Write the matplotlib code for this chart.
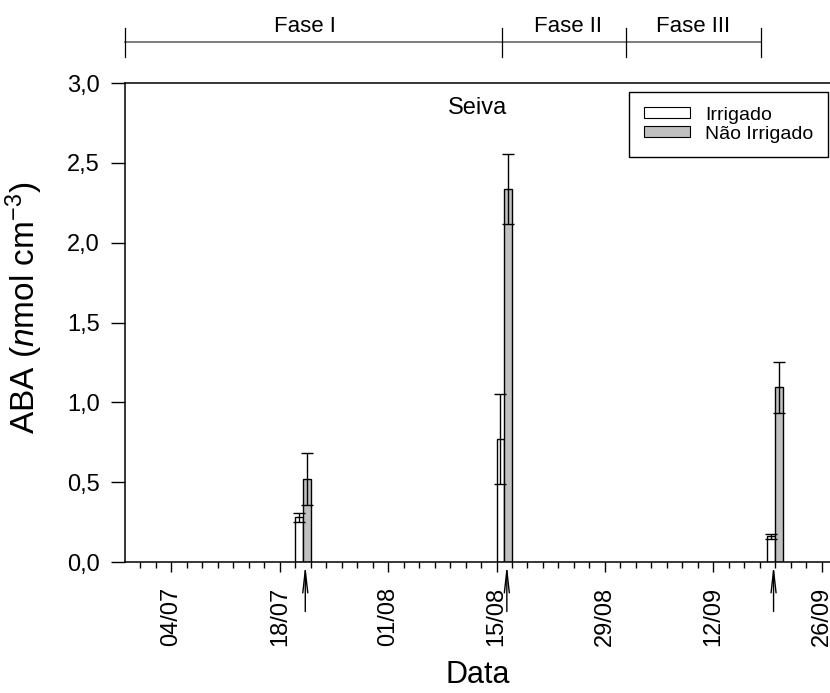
import datetime as dt
import numpy as np
import matplotlib
matplotlib.use("Agg")
import matplotlib.pyplot as plt
import matplotlib.dates as mdates
from matplotlib.patches import Patch

plt.rcParams['font.family'] = ['Liberation Sans', 'DejaVu Sans']
plt.rcParams['mathtext.fontset'] = 'custom'
plt.rcParams['mathtext.rm'] = 'Liberation Sans'
plt.rcParams['mathtext.it'] = 'Liberation Sans:italic'

# ============================
# DATA
# ============================
# sampling days: irrigated bar on this day, non-irrigated bar on the next day
sample_dates = [dt.datetime(2003, 7, 20), dt.datetime(2003, 8, 15), dt.datetime(2003, 9, 19)]
irrigado     = [0.28, 0.77, 0.16]
irrigado_err = [0.03, 0.28, 0.015]
nao_irrig     = [0.52, 2.335, 1.095]
nao_irrig_err = [0.16, 0.22, 0.16]

arrow_dates = [dt.datetime(2003, 7, 21, 7), dt.datetime(2003, 8, 16, 8), dt.datetime(2003, 9, 19, 19)]

tick_dates  = [dt.datetime(2003, 7, 4) + dt.timedelta(days=14 * k) for k in range(7)]
tick_labels = ["04/07", "18/07", "01/08", "15/08", "29/08", "12/09", "26/09"]

phase_names  = ["Fase I", "Fase II", "Fase III"]
phase_bounds = [dt.datetime(2003, 6, 28), dt.datetime(2003, 8, 15, 16),
                dt.datetime(2003, 8, 31, 17), dt.datetime(2003, 9, 18, 3)]
phase_label_dates = [dt.datetime(2003, 7, 21, 7), dt.datetime(2003, 8, 24, 5),
                     dt.datetime(2003, 9, 9, 10)]

x_start = dt.datetime(2003, 6, 28)
x_end   = dt.datetime(2003, 9, 27, 2)

# ============================
# PLOT
# ============================
fig = plt.figure(figsize=(8.3, 6.93), dpi=100)
ax = fig.add_axes([0.1506, 0.189, 0.8494, 0.6912])

xi = mdates.date2num(sample_dates)
xn = xi + 1.0

ax.bar(xi, irrigado, width=1.0, align='edge', color='white', edgecolor='black', linewidth=1)
ax.bar(xn, nao_irrig, width=1.0, align='edge', color='#c0c0c0', edgecolor='black', linewidth=1)
ax.errorbar(xi + 0.5, irrigado, yerr=irrigado_err, fmt='none', ecolor='black',
            elinewidth=1, capsize=4, capthick=1)
ax.errorbar(xn + 0.5, nao_irrig, yerr=nao_irrig_err, fmt='none', ecolor='black',
            elinewidth=1, capsize=4, capthick=1)

# arrows under the x axis
for d in arrow_dates:
    xa = mdates.date2num(d)
    ax.annotate('', xy=(xa, -0.015), xytext=(xa, -0.31),
                arrowprops=dict(arrowstyle='->,head_length=1.6,head_width=0.18',
                                lw=1, color='black', shrinkA=0, shrinkB=0),
                annotation_clip=False)

# phase bar on top
pb = mdates.date2num(phase_bounds)
ax.plot([pb[0], pb[-1]], [3.256, 3.256], color='#666666', lw=1.2, clip_on=False)
for b in pb:
    ax.plot([b, b], [3.162, 3.344], color='black', lw=0.9, clip_on=False)
for name, d in zip(phase_names, phase_label_dates):
    ax.text(mdates.date2num(d), 3.29, name, ha='center', va='bottom', fontsize=16,
            family=['Liberation Sans Narrow', 'Liberation Sans', 'DejaVu Sans'])

ax.text(0.5, 0.948, "Seiva", transform=ax.transAxes, ha='center', va='center', fontsize=17)

# axes
ax.set_xlim(mdates.date2num(x_start), mdates.date2num(x_end))
ax.set_ylim(0, 3.0)
ax.set_yticks(np.arange(0, 3.01, 0.5))
ax.set_yticklabels([f"{v:.1f}".replace('.', ',') for v in np.arange(0, 3.01, 0.5)])
ax.set_xticks(mdates.date2num(tick_dates))
ax.set_xticklabels(tick_labels, rotation=90)
ax.set_xticks(np.arange(mdates.date2num(tick_dates[0]) - 4, mdates.date2num(x_end), 2), minor=True)

ax.tick_params(axis='y', direction='out', length=10, width=1, pad=8, labelsize=17)
ax.tick_params(axis='x', which='major', direction='out', length=7, width=1, pad=11, labelsize=17)
ax.tick_params(axis='x', which='minor', direction='out', length=4, width=1)

ax.spines['right'].set_visible(False)
for s in ['left', 'bottom', 'top']:
    ax.spines[s].set_linewidth(1.1)

ax.set_xlabel("Data", fontsize=22)
ax.xaxis.set_label_coords(0.5, -0.205)
ax.set_ylabel("ABA ($\\it{n}$mol cm$^{-3}$)", fontsize=24)
ax.yaxis.set_label_coords(-0.114, 0.53)

handles = [Patch(facecolor='white', edgecolor='black', linewidth=0.8, label='Irrigado'),
           Patch(facecolor='#c0c0c0', edgecolor='black', linewidth=0.8, label='Não Irrigado')]
leg = ax.legend(handles=handles, loc='upper right', bbox_to_anchor=(0.997, 0.981),
                borderaxespad=0, fontsize=14, frameon=True, fancybox=False,
                edgecolor='black', framealpha=1, handlelength=2.4, handleheight=0.5,
                handletextpad=0.75, labelspacing=0.1, borderpad=0.75)
leg.get_frame().set_linewidth(1)

fig.savefig("out.png", dpi=100)
